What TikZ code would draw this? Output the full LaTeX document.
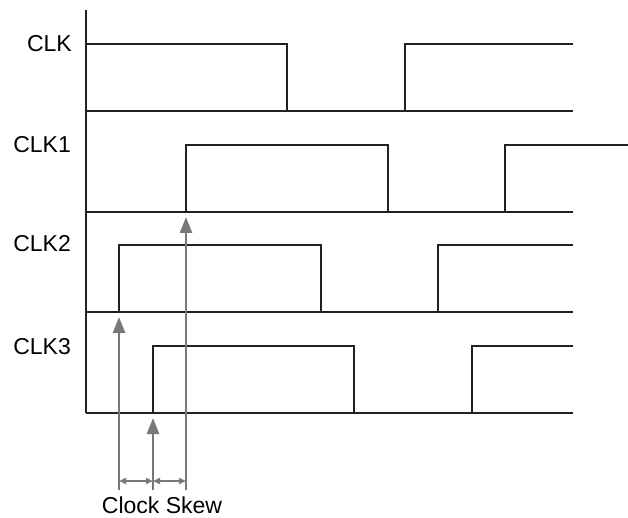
\documentclass[tikz,border=0pt]{standalone}
\usepackage{fontspec}
\setmainfont{Liberation Sans}
\usetikzlibrary{arrows.meta}
\begin{document}
\begin{tikzpicture}[x=1pt,y=-1pt,
  wave/.style={line width=2.3pt,draw=black!87,line join=miter},
  siglabel/.style={anchor=base east,inner sep=0pt,font=\fontsize{23}{26}\selectfont},
  skewline/.style={line width=2.5pt,draw=black!53,-{Triangle[length=16pt,width=12pt]},shorten >=5pt},
  skewspan/.style={line width=1.8pt,draw=black!53,{Triangle[length=7pt,width=6pt]}-{Triangle[length=7pt,width=6pt]}}]
\useasboundingbox (0,0) rectangle (628,518);

% time axis
\draw[wave] (86,10) -- (86,413);

% signal names
\node[siglabel] (lclk)  at (72,52)  {CLK};
\node[siglabel] (lclk1) at (71,153) {CLK1};
\node[siglabel] (lclk2) at (71,252) {CLK2};
\node[siglabel] (lclk3) at (71,354) {CLK3};

% CLK
\draw[wave] (86,111) -- (573,111);
\draw[wave] (86,44) -- (287,44) -- (287,111);
\draw[wave] (405,111) -- (405,44) -- (573,44);
% CLK1
\draw[wave] (86,212) -- (573,212);
\draw[wave] (186,212) -- (186,145) -- (388,145) -- (388,212);
\draw[wave] (505,212) -- (505,145) -- (628,145);
% CLK2
\draw[wave] (86,312) -- (573,312);
\draw[wave] (119,312) -- (119,245) -- (321,245) -- (321,312);
\draw[wave] (438,312) -- (438,245) -- (573,245);
% CLK3
\draw[wave] (86,413) -- (573,413);
\draw[wave] (153,413) -- (153,346) -- (354,346) -- (354,413);
\draw[wave] (472,413) -- (472,346) -- (573,346);

% clock edges being compared
\coordinate (e2) at (119,312);
\coordinate (e3) at (153,413);
\coordinate (e1) at (186,212);
\coordinate (b2) at (119,490);
\coordinate (b3) at (153,490);
\coordinate (b1) at (186,490);
\coordinate (s2) at (119,481);
\coordinate (s3) at (153,481);
\coordinate (s1) at (186,481);

\draw[skewline] (b2) -- (e2);
\draw[skewline] (b3) -- (e3);
\draw[skewline] (b1) -- (e1);
\draw[skewspan] (s2) -- (s3);
\draw[skewspan] (s3) -- (s1);

\node[anchor=base,inner sep=0pt,text depth=0pt,font=\fontsize{23}{26}\selectfont] (skew) at (162,513) {Clock Skew};
\end{tikzpicture}
\end{document}
